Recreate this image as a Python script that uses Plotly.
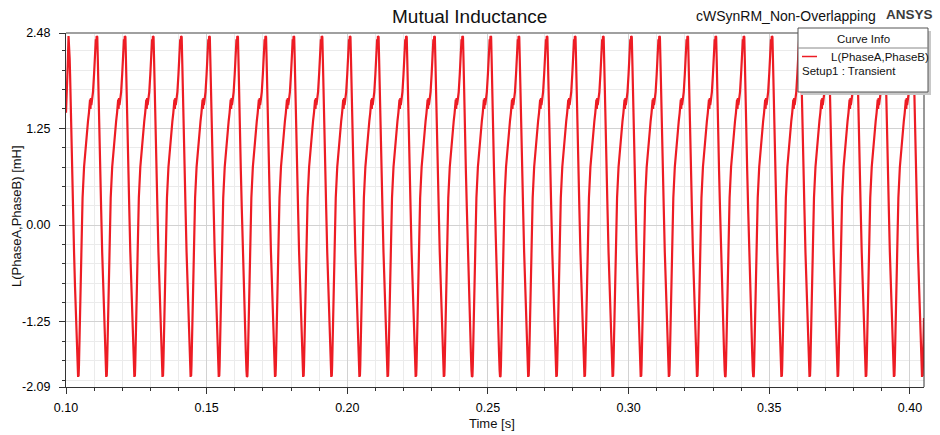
import plotly.graph_objects as go

# ---------------- data ----------------
# one cycle of L(PhaseA,PhaseB) measured from its peak: phase [ms] and value [mH]
cycle_phase_ms = [0.00, 0.12, 0.22, 0.40, 0.55, 0.90, 1.25, 1.60, 1.96, 2.31, 2.67, 3.03,
                  3.25, 3.40, 3.50, 3.58, 3.70, 3.85, 4.10, 4.34, 4.63, 4.99, 5.52, 6.23,
                  6.94, 7.25, 7.40, 7.50, 7.65, 7.80, 7.95, 8.10, 8.30, 8.70, 9.08, 9.44,
                  9.70, 9.82]
cycle_value_mH = [2.44, 2.36, 2.43, 2.15, 1.95, 1.30, 0.70, 0.20, -0.35, -0.80, -1.25, -1.65,
                  -1.88, -1.96, -1.90, -1.95, -1.82, -1.60, -1.20, -0.70, -0.10, 0.35, 0.75, 1.10,
                  1.35, 1.45, 1.58, 1.47, 1.62, 1.50, 1.64, 1.55, 1.60, 1.72, 1.95, 2.25,
                  2.40, 2.32]

# times of the waveform peaks [s]
peak_times_s = [0.1009, 0.1109, 0.1209, 0.1309, 0.1409, 0.1509, 0.1609, 0.1709,
                0.1809, 0.1909, 0.2009, 0.2109, 0.2209, 0.2309, 0.2409, 0.2509,
                0.2609, 0.2709, 0.2809, 0.2909, 0.3009, 0.3109, 0.3209, 0.3309,
                0.3409, 0.3509, 0.3609, 0.3709, 0.3809, 0.3909, 0.4009]

# start of the record before the first peak
lead_in_t = [0.1000, 0.1003, 0.1006]
lead_in_v = [1.45, 1.70, 2.05]

t_end = 0.405

x_ticks = [0.10, 0.15, 0.20, 0.25, 0.30, 0.35, 0.40]
y_ticks = [2.48, 1.25, 0.00, -1.25, -2.09]
y_tick_text = ["2.48", "1.25", "0.00", "-1.25", "-2.09"]
y_minor = [2.25, 2.00, 1.75, 1.50, 1.00, 0.75, 0.50, 0.25, -0.25, -0.50, -0.75,
           -1.00, -1.50, -1.75, -2.00]

# ---------------- build series ----------------
t = list(lead_in_t)
v = list(lead_in_v)
for p in peak_times_s:
    for ph, val in zip(cycle_phase_ms, cycle_value_mH):
        tt = p + ph / 1000.0
        if tt <= t_end:
            t.append(tt)
            v.append(val)

# ---------------- layout geometry (pixels) ----------------
W, H = 940, 435
ML, MR, MT, MB = 66, 16, 33, 48
PW, PH = W - ML - MR, H - MT - MB


def px(x):
    return (x - ML) / PW


def py(y):
    return 1 - (y - MT) / PH


FONT = "Liberation Sans, Arial, sans-serif"
RED = "rgb(237,28,36)"

fig = go.Figure()
fig.add_trace(go.Scatter(x=t, y=v, mode="lines",
                         line=dict(color=RED, width=2.2),
                         name="L(PhaseA,PhaseB)", showlegend=False,
                         hoverinfo="skip"))

fig.update_layout(
    width=W, height=H,
    margin=dict(l=ML, r=MR, t=MT, b=MB, pad=0),
    paper_bgcolor="white", plot_bgcolor="white",
    font=dict(family=FONT, size=12, color="black"),
    showlegend=False,
)

fig.update_xaxes(
    range=[0.10, t_end], tickmode="array", tickvals=x_ticks,
    ticktext=[f"{x:.2f}" for x in x_ticks],
    ticks="outside", ticklen=6, tickcolor="#333", tickwidth=1,
    tickfont=dict(size=12.5, family=FONT, color="black"), ticklabelstandoff=3,
    showline=True, linecolor="#333", linewidth=1,
    showgrid=True, gridcolor="#d2d2d2", gridwidth=1, zeroline=False,
    minor=dict(tick0=0.10, dtick=0.01, ticks="outside", ticklen=3, tickcolor="#333",
               showgrid=True, gridcolor="#ebebeb", gridwidth=1),
)
fig.update_yaxes(
    range=[-2.09, 2.48], tickmode="array", tickvals=y_ticks, ticktext=y_tick_text,
    ticks="outside", ticklen=6, tickcolor="#333", tickwidth=1,
    tickfont=dict(size=12.5, family=FONT, color="black"), ticklabelstandoff=6,
    showline=True, linecolor="#333", linewidth=1,
    showgrid=True, gridcolor="#d2d2d2", gridwidth=1, zeroline=False,
    minor=dict(tickvals=y_minor, ticks="outside", ticklen=3, tickcolor="#333",
               showgrid=True, gridcolor="#ebebeb", gridwidth=1),
)

shapes = [
    # top border (gray) and right border
    dict(type="line", xref="paper", yref="paper", x0=0, x1=1, y0=1, y1=1,
         line=dict(color="#a0a0a0", width=2)),
    dict(type="line", xref="paper", yref="paper", x0=1, x1=1, y0=0, y1=1,
         line=dict(color="#333", width=1)),
    # legend shadow
    dict(type="rect", xref="paper", yref="paper", x0=px(801), x1=px(931), y0=py(95), y1=py(31),
         fillcolor="#c8c8c8", line=dict(width=0), layer="above"),
    # legend box
    dict(type="rect", xref="paper", yref="paper", x0=px(798), x1=px(928), y0=py(92), y1=py(28),
         fillcolor="white", line=dict(color="#555", width=1), layer="above"),
    dict(type="line", xref="paper", yref="paper", x0=px(798), x1=px(928), y0=py(48), y1=py(48),
         line=dict(color="#888", width=1), layer="above"),
    dict(type="line", xref="paper", yref="paper", x0=px(802), x1=px(817), y0=py(56.5), y1=py(56.5),
         line=dict(color=RED, width=1.5), layer="above"),
]

annotations = [
    dict(text="Mutual Inductance", x=px(469), y=py(17), xref="paper", yref="paper",
         xanchor="center", yanchor="middle", showarrow=False,
         font=dict(size=19, family=FONT, color="#111")),
    dict(text="cWSynRM_Non-Overlapping", x=px(878), y=py(16), xref="paper", yref="paper",
         xanchor="right", yanchor="middle", showarrow=False,
         font=dict(size=14, family=FONT, color="#111")),
    dict(text="<b>ANSYS</b>", x=px(935), y=py(15), xref="paper", yref="paper",
         xanchor="right", yanchor="middle", showarrow=False,
         font=dict(size=13.5, family=FONT, color="#3c3c3c")),
    dict(text="Time [s]", x=px(492), y=py(423), xref="paper", yref="paper",
         xanchor="center", yanchor="middle", showarrow=False,
         font=dict(size=13, family=FONT, color="#111")),
    dict(text="L(PhaseA,PhaseB) [mH]", x=px(17), y=py(216), xref="paper", yref="paper",
         xanchor="center", yanchor="middle", showarrow=False, textangle=-90,
         font=dict(size=13, family=FONT, color="#111")),
    # legend texts
    dict(text="Curve Info", x=px(863), y=py(39), xref="paper", yref="paper",
         xanchor="center", yanchor="middle", showarrow=False,
         font=dict(size=11.5, family=FONT, color="#111")),
    dict(text="L(PhaseA,PhaseB)", x=px(829), y=py(57), xref="paper", yref="paper",
         xanchor="left", yanchor="middle", showarrow=False,
         font=dict(size=11.5, family=FONT, color="#111")),
    dict(text="Setup1 : Transient", x=px(800), y=py(71), xref="paper", yref="paper",
         xanchor="left", yanchor="middle", showarrow=False,
         font=dict(size=11.5, family=FONT, color="#111")),
]

fig.update_layout(shapes=shapes, annotations=annotations)

fig.write_html("out.html")
